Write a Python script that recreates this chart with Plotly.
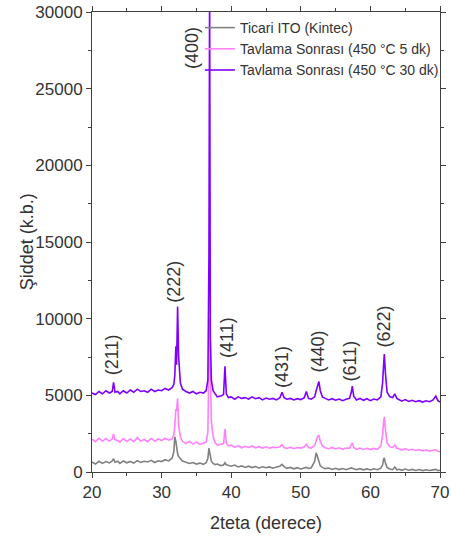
import plotly.graph_objects as go

# 2-theta grid (degrees)
X = [
    20.0, 20.5, 21.0, 21.5, 22.0, 22.5, 22.9, 23.1, 23.3, 23.7,
    24.0, 24.5, 25.0, 25.5, 26.0, 26.5, 27.0, 27.5, 28.0, 28.5,
    29.0, 29.5, 30.0, 30.5, 31.0, 31.5, 31.75, 31.9, 32.05, 32.15,
    32.3, 32.45, 32.7, 33.0, 33.5, 34.0, 34.5, 35.0, 35.5, 36.0,
    36.4, 36.65, 36.8, 36.9, 37.0, 37.15, 37.4, 37.7, 38.0, 38.5,
    38.9, 39.1, 39.3, 39.6, 40.0, 40.5, 41.0, 41.5, 42.0, 42.5,
    43.0, 43.5, 44.0, 44.5, 45.0, 45.5, 46.0, 46.5, 47.0, 47.3,
    47.6, 48.0, 48.5, 49.0, 49.5, 50.0, 50.5, 50.8, 51.1, 51.5,
    52.0, 52.2, 52.4, 52.6, 52.8, 53.1, 53.5, 54.0, 54.5, 55.0,
    55.5, 56.0, 56.5, 57.0, 57.25, 57.4, 57.6, 58.0, 58.5, 59.0,
    59.5, 60.0, 60.5, 61.0, 61.5, 61.75, 61.9, 62.0, 62.15, 62.4,
    62.8, 63.2, 63.5, 63.8, 64.2, 64.5, 65.0, 65.5, 66.0, 66.5,
    67.0, 67.5, 68.0, 68.5, 69.0, 69.4, 69.7, 70.0,
]

# Ticari ITO (Kintec)
Y_TICARI = [
    650, 520, 700, 560, 680, 590, 720, 860, 640, 700,
    560, 720, 600, 690, 580, 740, 620, 700, 650, 760,
    620, 730, 680, 800, 720, 900, 1300, 2300, 2000, 1500,
    1200, 1000, 850, 720, 640, 560, 620, 520, 580, 500,
    600, 900, 1550, 1300, 900, 700, 560, 480, 520, 420,
    460, 600, 470, 420, 380, 450, 330, 400, 300, 380,
    290, 360, 260, 340, 280, 330, 250, 320, 380, 500,
    350, 240, 300, 210, 280, 200, 260, 300, 230, 280,
    700, 1250, 1000, 600, 400, 300, 220, 260, 170, 240,
    160, 230, 150, 220, 280, 240, 200, 150, 220, 140,
    200, 130, 210, 150, 250, 450, 850, 920, 600, 300,
    200, 150, 320, 140, 180, 110, 190, 120, 170, 100,
    160, 90, 150, 100, 140, 170, 90, 120,
]

# Tavlama Sonrası (450 °C 5 dk)
Y_5DK = [
    2150, 1980, 2200, 2000, 2180, 2020, 2150, 2480, 2100, 2050,
    1950, 2180, 2000, 2150, 1980, 2250, 2020, 2120, 1980, 2200,
    2000, 2150, 2050, 2200, 2080, 2150, 2400, 3000, 4100, 4000,
    4800, 3000, 2300, 2000, 1850, 2000, 1820, 1950, 1800, 1900,
    1950, 2600, 6500, 10000, 7000, 3300, 2300, 1900, 1750, 1800,
    1850, 2800, 1900, 1700, 1750, 1620, 1700, 1580, 1680, 1600,
    1700, 1580, 1650, 1560, 1640, 1550, 1620, 1580, 1650, 1780,
    1600, 1540, 1620, 1520, 1600, 1560, 1650, 1800, 1600, 1560,
    1750, 2000, 2300, 2400, 2000, 1700, 1580, 1520, 1600, 1500,
    1580, 1480, 1560, 1550, 1750, 1900, 1600, 1480, 1560, 1470,
    1550, 1460, 1540, 1480, 1700, 2400, 3300, 3600, 2800, 1900,
    1650, 1600, 1750, 1550, 1500, 1430, 1520, 1420, 1480, 1400,
    1460, 1380, 1450, 1360, 1420, 1450, 1350, 1320,
]

# Tavlama Sonrası (450 °C 30 dk)
Y_30DK = [
    5150, 5050, 5250, 5100, 5300, 5150, 5250, 5850, 5200, 5250,
    5100, 5300, 5150, 5350, 5200, 5400, 5250, 5300, 5200, 5400,
    5250, 5350, 5300, 5450, 5350, 5500, 5700, 6300, 8200, 7000,
    10800, 7500, 5800, 5400, 5250, 5150, 5250, 5100, 5200, 5150,
    5300, 6000, 14000, 32000, 9000, 6000, 5300, 5050, 4900, 4950,
    5050, 6900, 5100, 4850, 4900, 4750, 4900, 4800, 4850, 4750,
    4900, 4780, 4850, 4700, 4820, 4750, 4800, 4700, 4850, 5200,
    4850, 4750, 4800, 4700, 4780, 4720, 4850, 5250, 4800, 4750,
    4900, 5300, 5700, 5900, 5300, 4900, 4800, 4700, 4780, 4680,
    4760, 4650, 4750, 4800, 5200, 5600, 4950, 4700, 4800, 4680,
    4780, 4650, 4760, 4700, 4900, 5800, 7000, 7700, 6500, 5200,
    4900, 4850, 5100, 4800, 4700, 4620, 4720, 4600, 4680, 4580,
    4650, 4560, 4640, 4580, 4700, 4950, 4650, 4560,
]

SERIES_NAMES = [
    "Ticari ITO (Kintec)",
    "Tavlama Sonrası (450 °C 5 dk)",
    "Tavlama Sonrası (450 °C 30 dk)",
]
SERIES_COLORS = ["#808080", "#ff80ff", "#8000ff"]

PEAK_LABELS = ["(211)", "(222)", "(400)", "(411)", "(431)", "(440)", "(611)", "(622)"]
LABEL_X = [22.9, 31.75, 34.35, 39.4, 47.3, 52.4, 57.0, 61.9]
LABEL_Y = [7630, 12390, 27650, 8740, 6850, 7830, 7240, 9460]

Y_TITLE = "Şiddet (k.b.)"
X_TITLE = "2teta (derece)"

FONT = "Liberation Sans, Arial, sans-serif"
TEXT_COLOR = "#333333"
AXIS_COLOR = "#404040"

fig = go.Figure()
for name, ys, col in zip(SERIES_NAMES, [Y_TICARI, Y_5DK, Y_30DK], SERIES_COLORS):
    fig.add_trace(go.Scatter(x=X, y=ys, mode="lines", name=name,
                             line=dict(color=col, width=1.6)))

for lab, lx, ly in zip(PEAK_LABELS, LABEL_X, LABEL_Y):
    fig.add_annotation(x=lx, y=ly, text=lab, textangle=-90, showarrow=False,
                       xanchor="center", yanchor="middle",
                       font=dict(family=FONT, size=18, color=TEXT_COLOR))

# y-axis title placed as a rotated paper annotation (closer to tick labels)
fig.add_annotation(xref="paper", yref="paper", x=-0.186, y=0.5, text=Y_TITLE,
                   textangle=-90, showarrow=False, xanchor="center", yanchor="middle",
                   font=dict(family=FONT, size=18, color=TEXT_COLOR))

axis_common = dict(
    showline=True, linecolor=AXIS_COLOR, linewidth=1, mirror="allticks",
    ticks="outside", ticklen=5, tickwidth=1, tickcolor=AXIS_COLOR,
    showgrid=False, zeroline=False, automargin=False, ticklabeloverflow="allow",
    tickfont=dict(family=FONT, size=17, color=TEXT_COLOR),
)

fig.update_xaxes(range=[20, 70], dtick=10, tick0=20, tickformat="d",
                 minor=dict(dtick=5, ticks="outside", ticklen=3, tickcolor=AXIS_COLOR),
                 title=dict(text=X_TITLE, standoff=14,
                            font=dict(family=FONT, size=18, color=TEXT_COLOR)),
                 **axis_common)
fig.update_yaxes(range=[0, 30000], dtick=5000, tick0=0, tickformat="d",
                 minor=dict(dtick=2500, ticks="outside", ticklen=3, tickcolor=AXIS_COLOR),
                 **axis_common)

fig.update_layout(
    width=451, height=540,
    margin=dict(l=92, r=7, t=12, b=68),
    paper_bgcolor="white", plot_bgcolor="white",
    showlegend=True,
    legend=dict(x=0.31, y=1.0, xanchor="left", yanchor="top",
                bgcolor="rgba(0,0,0,0)", borderwidth=0,
                font=dict(family=FONT, size=14, color=TEXT_COLOR),
                tracegroupgap=0, itemwidth=30),
)

fig.write_html("out.html", config={"displayModeBar": False},
               post_script="document.body.style.margin='0px';document.body.style.overflow='hidden';")
